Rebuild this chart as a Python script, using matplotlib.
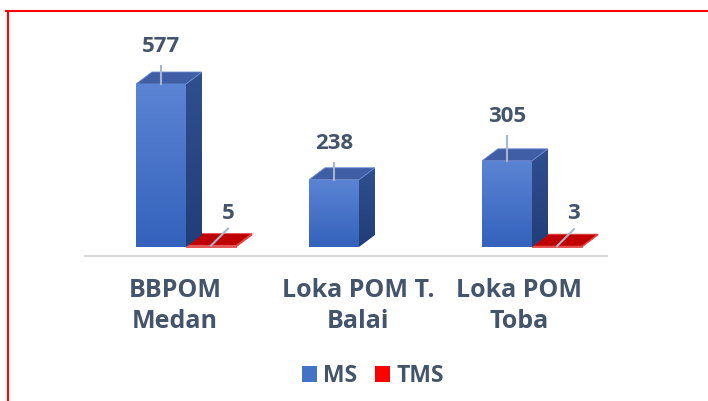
import matplotlib.pyplot as plt
import numpy as np
from matplotlib.colors import LinearSegmentedColormap
from matplotlib.lines import Line2D
from matplotlib.patches import Patch, Polygon

categories = ["BBPOM\nMedan", "Loka POM T.\nBalai", "Loka POM\nToba"]
ms_values = [577, 238, 305]
tms_values = [5, np.nan, 3]
series_names = ["MS", "TMS"]

W, H = 708, 401
SLOT_PX = 173           # pixels between categories
VAL_PX = 163 / 577      # pixels per unit of value
BASE_PX = 247           # baseline, pixels from top
ZERO_PX = 186           # x pixel of category 0 centre
LABEL_SHIFT_PX = [-11, -1, -13]   # category label nudges
LEADER_PX = [18, 17, 25]          # leader lengths of MS data labels
TEXT = "#44546A"
FONT = ["Open Sans", "DejaVu Sans"]
FS = 16


def px_x(p):
    return p / SLOT_PX


def px_y(p):
    return p / VAL_PX


BAR_W = px_x(50)
DEPTH_X = px_x(16)
DEPTH_Y = px_y(12)

MS_FRONT = LinearSegmentedColormap.from_list("msf", ["#3462BC", "#5B84D4"])
MS_SIDE = LinearSegmentedColormap.from_list("mss", ["#223E78", "#304F90"])
TMS_FRONT = LinearSegmentedColormap.from_list("tf", ["#B00000", "#D00000"])


def gradient_poly(ax, pts, cmap, z):
    pts = np.array(pts)
    poly = Polygon(pts, closed=True, facecolor="none", edgecolor="none", zorder=z)
    ax.add_patch(poly)
    grad = np.linspace(0, 1, 64).reshape(-1, 1)
    im = ax.imshow(grad, cmap=cmap, origin="lower", aspect="auto", zorder=z,
                   extent=[pts[:, 0].min(), pts[:, 0].max(), pts[:, 1].min(), pts[:, 1].max()])
    im.set_clip_path(poly)


def draw_box(ax, x0, h, front_cmap, side_cmap, top_color, edge, z):
    front = [(x0, 0), (x0 + BAR_W, 0), (x0 + BAR_W, h), (x0, h)]
    side = [(x0 + BAR_W, 0), (x0 + BAR_W + DEPTH_X, DEPTH_Y),
            (x0 + BAR_W + DEPTH_X, h + DEPTH_Y), (x0 + BAR_W, h)]
    top = [(x0, h), (x0 + BAR_W, h), (x0 + BAR_W + DEPTH_X, h + DEPTH_Y), (x0 + DEPTH_X, h + DEPTH_Y)]
    if side_cmap is None:
        ax.add_patch(Polygon(side, closed=True, facecolor=top_color, edgecolor=edge, lw=0.6, zorder=z))
    else:
        gradient_poly(ax, side, side_cmap, z)
    ax.add_patch(Polygon(top, closed=True, facecolor=top_color, edgecolor=edge, lw=0.6, zorder=z))
    if h > px_y(2):
        gradient_poly(ax, front, front_cmap, z)
    else:
        ax.add_patch(Polygon(front, closed=True, facecolor=top_color, edgecolor=edge, lw=0.6, zorder=z))


fig = plt.figure(figsize=(W / 100, H / 100), dpi=100)
ax = fig.add_axes([0, 0, 1, 1])

x = np.arange(len(categories))

# floor line
ax.plot([px_x(85 - ZERO_PX), px_x(607 - ZERO_PX)], [px_y(-9), px_y(-9)],
        color="#D9D9D9", lw=1.5, zorder=1)

for i in x:
    ms = ms_values[i]
    draw_box(ax, i - BAR_W, ms, MS_FRONT, MS_SIDE, "#3F5EA6", "#6A8AD0", 3)
    cx = i - BAR_W / 2
    ax.plot([cx, cx], [ms, ms + px_y(LEADER_PX[i])], color="#A9B6CA", lw=1.5, zorder=5)
    ax.text(cx, ms + px_y(LEADER_PX[i] + 9), str(ms), ha="center", va="bottom", color=TEXT,
            fontsize=FS, fontweight="bold", family=FONT, zorder=6)

    tms = tms_values[i]
    if not np.isnan(tms):
        draw_box(ax, i, tms, TMS_FRONT, None, "#C00000", "#E55050", 2)
        cx = i + BAR_W / 2
        tx, ty = cx + px_x(17), tms + px_y(17)
        ax.plot([cx, tx], [tms, ty], color="#A9B6CA", lw=1.5, zorder=5)
        ax.text(tx, ty + px_y(5), str(int(tms)), ha="center", va="bottom", color=TEXT,
                fontsize=FS, fontweight="bold", family=FONT, zorder=6)

    ax.text(i + px_x(LABEL_SHIFT_PX[i]), px_y(-59), categories[i], ha="center", va="center",
            multialignment="center", color=TEXT, fontsize=18, fontweight="bold",
            family=FONT, linespacing=1.27)

ax.set_xlim(px_x(-ZERO_PX), px_x(W - ZERO_PX))
ax.set_ylim(px_y(-(H - BASE_PX)), px_y(BASE_PX))
ax.axis("off")

handles = [Patch(facecolor="#4472C4", edgecolor="none"), Patch(facecolor="#FF0000", edgecolor="none")]
fig.legend(handles, series_names, loc="center", bbox_to_anchor=(373 / W, 1 - 376 / H),
           ncol=2, frameon=False, handlelength=0.65, handleheight=0.65,
           handletextpad=0.25, columnspacing=0.8, labelcolor=TEXT,
           prop={"family": FONT, "weight": "bold", "size": 16.5})

# red frame
fig.add_artist(Line2D([6 / W, 1], [1 - 11 / H, 1 - 11 / H], color="red", lw=1.5))
fig.add_artist(Line2D([8 / W, 8 / W], [0, 1 - 11 / H], color="red", lw=1.5))

fig.savefig("out.png", dpi=100)
